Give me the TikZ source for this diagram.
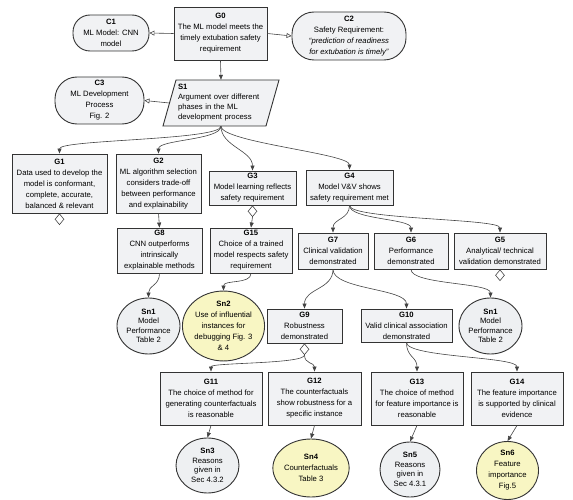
\documentclass[tikz,border=0pt]{standalone}
\usepackage{fontspec}
\setmainfont{Liberation Sans}
\usetikzlibrary{shapes.geometric,arrows.meta}
\definecolor{boxfill}{HTML}{F1F2F4}
\definecolor{elfill}{HTML}{EEF0F2}
\definecolor{yelfill}{HTML}{F8F6C3}
\definecolor{edgecol}{HTML}{333333}
\definecolor{linecol}{HTML}{444444}
\begin{document}
\begin{tikzpicture}[x=1pt,y=-1pt,
  every node/.style={font=\fontsize{7.7}{11}\selectfont, align=center, inner sep=0pt},
  goal/.style={draw=edgecol, line width=0.9pt, fill=boxfill, rectangle},
  ctxbox/.style={draw=edgecol, line width=0.9pt, fill=boxfill, rectangle},
  solgray/.style={draw=edgecol, line width=0.9pt, fill=elfill, ellipse, font=\fontsize{7.7}{9.5}\selectfont},
  solyel/.style={draw=edgecol, line width=0.9pt, fill=yelfill, ellipse},
  link/.style={draw=linecol, line width=0.6pt, -{Triangle[length=5pt,width=4pt]}},
  ctxlink/.style={draw=linecol, line width=0.6pt, -{Triangle[open,length=5pt,width=5pt]}},
  diam/.style={diamond, draw=linecol, fill=white, line width=0.6pt, minimum width=9pt, minimum height=11pt, inner sep=0pt}
]
\useasboundingbox (0,0) rectangle (573,500);

% top level
\node[goal, minimum width=93pt, minimum height=53pt] (g0) at (220.5,33.5)
  {\textbf{G0}\\The ML model meets the\\timely extubation safety\\requirement};
\node[ctxbox, rounded corners=17pt, minimum width=76pt, minimum height=36pt] (c1) at (111,33)
  {\textbf{C1}\\ML Model: CNN\\model};
\node[ctxbox, rounded corners=22pt, minimum width=114pt, minimum height=48pt] (c2) at (349,36)
  {\textbf{C2}\\Safety Requirement:\\\textit{“prediction of readiness}\\\textit{for extubation is timely”}};

\coordinate (s1c) at (221,103);
\filldraw[fill=boxfill, draw=edgecol, line width=0.9pt]
  ([shift={(-45,-23)}]s1c) -- ([shift={(58,-23)}]s1c) -- ([shift={(45,23)}]s1c)
  -- ([shift={(-58,23)}]s1c) -- cycle;
\node[minimum width=103pt, minimum height=46pt, text width=86pt, align=left,
      font=\fontsize{7.7}{10}\selectfont] (s1) at (s1c)
  {\textbf{S1}\\Argument over different\\phases in the ML\\development process};

\node[ctxbox, rounded corners=22pt, minimum width=89pt, minimum height=47pt] (c3) at (99.5,100.5)
  {\textbf{C3}\\ML Development\\Process\\Fig. 2};

% second level
\node[goal, minimum width=95pt, minimum height=59pt] (g1) at (59.5,183.5)
  {\textbf{G1}\\Data used to develop the\\model is conformant,\\complete, accurate,\\balanced \& relevant};
\node[goal, minimum width=85pt, minimum height=59pt] (g2) at (158.5,183.5)
  {\textbf{G2}\\ML algorithm selection\\considers trade-off\\between performance\\and explainability};
\node[goal, minimum width=87pt, minimum height=34pt] (g3) at (252.5,188)
  {\textbf{G3}\\Model learning reflects\\safety requirement};
\node[goal, minimum width=87pt, minimum height=35pt] (g4) at (349.5,187.5)
  {\textbf{G4}\\Model V\&V shows\\safety requirement met};

\node[diam, anchor=north] (d1) at (g1.south) {};
\node[diam, anchor=north] (d3) at (g3.south) {};

\node[goal, minimum width=85pt, minimum height=45pt] (g8) at (159.5,250.5)
  {\textbf{G8}\\CNN outperforms\\intrinsically\\explainable methods};
\node[goal, minimum width=82pt, minimum height=45pt] (g15) at (251,250.5)
  {\textbf{G15}\\Choice of a trained\\model respects safety\\requirement};
\node[goal, minimum width=70pt, minimum height=36pt] (g7) at (333,251)
  {\textbf{G7}\\Clinical validation\\demonstrated};
\node[goal, minimum width=74pt, minimum height=36pt] (g6) at (411,251)
  {\textbf{G6}\\Performance\\demonstrated};
\node[goal, minimum width=92pt, minimum height=36pt] (g5) at (500,251)
  {\textbf{G5}\\Analytical/ technical\\validation demonstrated};
\node[diam, anchor=north] (d5) at (g5.south) {};

% third level
\node[solgray, minimum width=63pt, minimum height=56pt] (sn1a) at (148.5,326)
  {\textbf{Sn1}\\Model\\Performance\\Table 2};
\node[solyel, minimum width=75pt, minimum height=66pt] (sn2) at (223.5,326)
  {\textbf{Sn2}\\Use of influential\\instances for\\debugging Fig. 3\\\& 4};
\node[goal, minimum width=75pt, minimum height=34pt] (g9) at (304.5,326)
  {\textbf{G9}\\Robustness\\demonstrated};
\node[goal, minimum width=91pt, minimum height=33pt] (g10) at (406.5,325.5)
  {\textbf{G10}\\Valid clinical association\\demonstrated};
\node[solgray, minimum width=63pt, minimum height=56pt] (sn1b) at (490.5,326)
  {\textbf{Sn1}\\Model\\Performance\\Table 2};
\node[diam, anchor=north] (d9) at (g9.south) {};

% fourth level
\node[goal, minimum width=102pt, minimum height=53pt] (g11) at (211,398.5)
  {\textbf{G11}\\The choice of method for\\generating counterfactuals\\is reasonable};
\node[goal, minimum width=93pt, minimum height=53pt] (g12) at (314.5,398.5)
  {\textbf{G12}\\The counterfactuals\\show robustness for a\\specific instance};
\node[goal, minimum width=92pt, minimum height=53pt] (g13) at (417,398.5)
  {\textbf{G13}\\The choice of method\\for feature importance is\\reasonable};
\node[goal, minimum width=92pt, minimum height=53pt] (g14) at (517,398.5)
  {\textbf{G14}\\The feature importance\\is supported by clinical\\evidence};

% solutions
\node[solgray, minimum width=63pt, minimum height=55pt] (sn3) at (207.5,465.5)
  {\textbf{Sn3}\\Reasons\\given in\\Sec 4.3.2};
\node[solyel, minimum width=66pt, minimum height=58pt] (sn4) at (311,468)
  {\textbf{Sn4}\\Counterfactuals\\Table 3};
\node[solgray, minimum width=60pt, minimum height=55pt] (sn5) at (410,469.5)
  {\textbf{Sn5}\\Reasons\\given in\\Sec 4.3.1};
\node[solyel, minimum width=62pt, minimum height=58pt] (sn6) at (507.5,470.5)
  {\textbf{Sn6}\\Feature\\importance\\Fig.5};

% context links
\draw[ctxlink] (g0.west) -- (c1.east);
\draw[ctxlink] (g0.east) -- (c2.west);
\draw[ctxlink] (s1.west) -- (c3.east);

% support links
\draw[link] (g0.south) -- (s1.north);
\draw[link] (s1.south) .. controls +(0,14) and +(0,-14) .. (g1.north);
\draw[link] (s1.south) .. controls +(0,14) and +(0,-14) .. (g2.north);
\draw[link] (s1.south) .. controls +(0,20) and +(0,-20) .. (g3.north);
\draw[link] (s1.south) .. controls +(0,16) and +(0,-16) .. (g4.north);
\draw[link] (g2.south) -- (g8.north);
\draw[link] (d3.south) -- (g15.north);
\draw[link] (g8.south) .. controls +(0,12) and +(0,-12) .. (sn1a.north);
\draw[link] (g15.south) .. controls +(0,11) and +(0,-11) .. (sn2.north);
\draw[link] (g4.south) .. controls +(0,14) and +(0,-14) .. (g7.north);
\draw[link] (g4.south) .. controls +(0,14) and +(0,-14) .. (g6.north);
\draw[link] (g4.south) .. controls +(0,14) and +(0,-14) .. (g5.north);
\draw[link] (g7.south) .. controls +(0,20) and +(0,-20) .. (g9.north);
\draw[link] (g7.south) .. controls +(0,20) and +(0,-20) .. (g10.north);
\draw[link] (g6.south) .. controls +(0,15) and +(0,-15) .. (sn1b.north);
\draw[link] (d9.south) .. controls +(0,9) and +(0,-9) .. (g11.north);
\draw[link] (d9.south) .. controls +(0,9) and +(0,-9) .. (g12.north);
\draw[link] (g10.south) .. controls +(0,15) and +(0,-15) .. (g13.north);
\draw[link] (g10.south) .. controls +(0,15) and +(0,-15) .. (g14.north);
\draw[link] (g11.south) -- (sn3.north);
\draw[link] (g12.south) -- (sn4.north);
\draw[link] (g13.south) -- (sn5.north);
\draw[link] (g14.south) -- (sn6.north);
\end{tikzpicture}
\end{document}
